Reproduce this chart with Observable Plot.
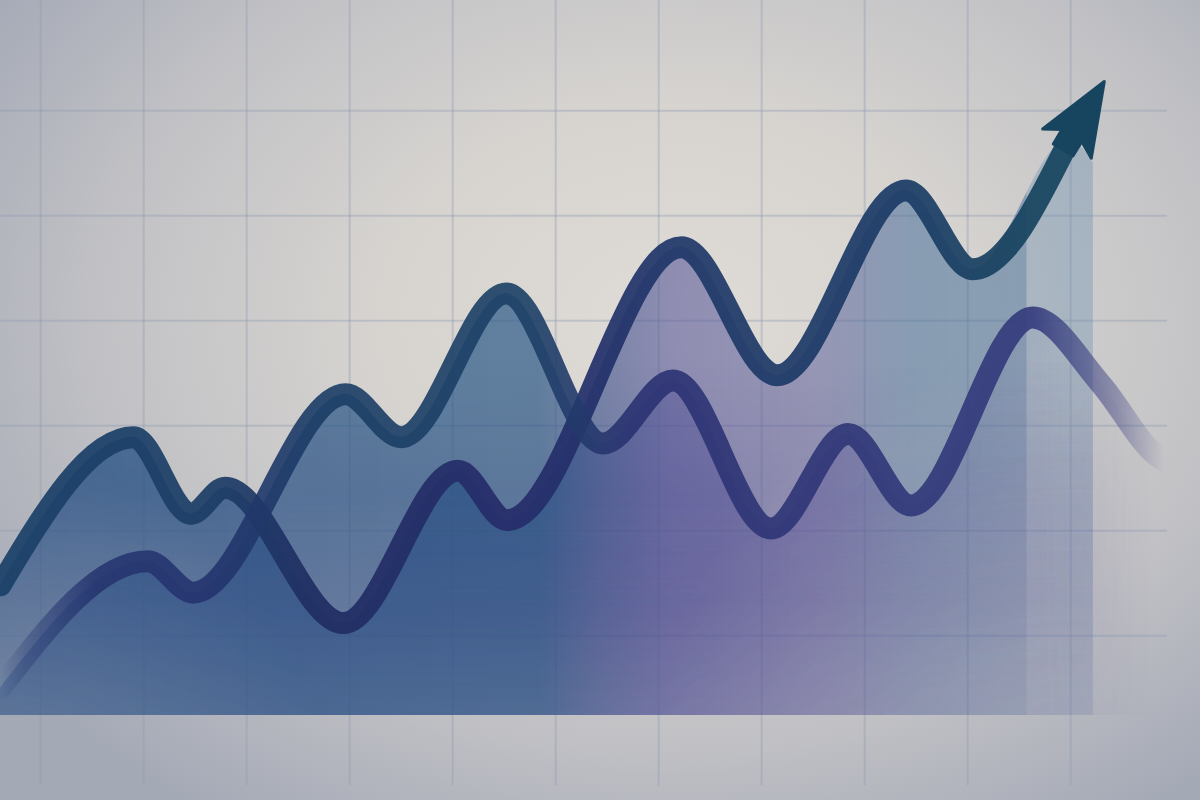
<!DOCTYPE html>
<html>
<head>
<meta charset="utf-8">
<script src="https://cdn.jsdelivr.net/npm/d3@7"></script>
<script src="https://cdn.jsdelivr.net/npm/@observablehq/plot@0.6"></script>
<style>
  html, body { margin: 0; padding: 0; background: #c9c8c9; }
  #chart svg {
    display: block;
    background: radial-gradient(ellipse 68% 75% at 56% 40%, #dfdbd6 0%, #d7d4d0 35%, #c1c1c5 70%, #a4a9b6 100%);
  }
</style>
</head>
<body>
<div id="chart"></div>
<script>
// Series 1 (line ending in the arrow)
const t1 = [-0.39, 0.90, 1.46, 1.79, 2.94, 4.05, 4.53, 6.22, 7.15, 8.40, 9.05, 9.99];
const v1 = [14.8, 28.9, 21.6, 24.1, 11.2, 25.7, 21.0, 47.0, 34.8, 52.4, 44.9, 57.3];
// Series 2 (second line)
const t2 = [-0.39, 1.04, 1.48, 2.96, 3.50, 4.52, 5.46, 6.14, 7.09, 7.84, 8.45, 9.63, 10.29, 10.84, 11.05];
const v2 = [5.0, 17.1, 14.1, 33.0, 28.9, 42.6, 28.3, 34.3, 20.2, 29.2, 22.4, 40.3, 34.0, 27.1, 26.0];
// Tail of the filled area beneath the arrow head
const tailT = [10.22];
const tailV = [55.0];
// Grid ticks
const gridT = [0, 1, 2, 3, 4, 5, 6, 7, 8, 9, 10];
const gridV = [10, 20, 30, 40, 50, 60];
const floorV = 2.4;

const s1 = t1.map((t, i) => ({t, v: v1[i]}));
const s2 = t2.map((t, i) => ({t, v: v2[i]}));
const area1 = s1.concat(tailT.map((t, i) => ({t, v: tailV[i]})));

const arrowHead = {
  draw(context, size) {
    const s = Math.sqrt(size / Math.PI) / 20;
    context.moveTo(0, -64 * s);
    context.lineTo(27 * s, 5 * s);
    context.lineTo(11 * s, -4 * s);
    context.lineTo(11 * s, 12 * s);
    context.lineTo(-11 * s, 12 * s);
    context.lineTo(-11 * s, -4 * s);
    context.lineTo(-27 * s, 5 * s);
    context.closePath();
  }
};

const areaOpts = {x: "t", y1: floorV, y2: "v", curve: "monotone-x"};
const lineOpts = {x: "t", y: "v", curve: "monotone-x", strokeWidth: 22, strokeLinecap: "round", strokeLinejoin: "round"};

const plot = Plot.plot({
  width: 1200,
  height: 800,
  margin: 0,
  x: {domain: [-0.39, 11.26], axis: null},
  y: {domain: [-5.7, 70.5], axis: null},
  marks: [
    Plot.ruleX(gridT, {x: d => d, y1: 70.5, y2: -4.3, stroke: "#8f9cb1", strokeOpacity: 0.38, strokeWidth: 2}),
    Plot.ruleY(gridV, {y: d => d, x1: -0.39, x2: 10.94, stroke: "#8f9cb1", strokeOpacity: 0.38, strokeWidth: 2}),
    Plot.areaY(area1, {...areaOpts, fill: "url(#fill1)"}),
    Plot.areaY(area1, {...areaOpts, fill: "url(#tint)"}),
    Plot.areaY(s2, {...areaOpts, fill: "url(#fill2)"}),
    Plot.areaY(s2, {...areaOpts, fill: "url(#tint)"}),
    Plot.line(s1, {...lineOpts, stroke: "url(#stroke1)", strokeOpacity: 0.92}),
    Plot.line(s2, {...lineOpts, stroke: "url(#stroke2)", strokeOpacity: 0.9}),
    Plot.dot(s1.slice(-1), {x: "t", y: "v", symbol: arrowHead, r: 21, rotate: 31, fill: "#17455f", stroke: "#17455f", strokeWidth: 3, strokeLinejoin: "round"})
  ]
});

const svg = d3.select(plot);
const defs = svg.insert("defs", ":first-child");
function lin(id, stops, vertical) {
  const g = defs.append("linearGradient").attr("id", id).attr("gradientUnits", "userSpaceOnUse")
    .attr("x1", 0).attr("y1", 0).attr("x2", vertical ? 0 : 1200).attr("y2", vertical ? 800 : 0);
  for (const [o, c, a] of stops) g.append("stop").attr("offset", o).attr("stop-color", c).attr("stop-opacity", a);
}
function rad(id, cx, cy, r, stops) {
  const g = defs.append("radialGradient").attr("id", id).attr("gradientUnits", "userSpaceOnUse")
    .attr("cx", cx).attr("cy", cy).attr("r", r);
  for (const [o, c, a] of stops) g.append("stop").attr("offset", o).attr("stop-color", c).attr("stop-opacity", a);
}
lin("fill1", [
  [0, "#2d5a88", 0.82], [0.45, "#2d5a88", 0.74], [0.5, "#43588f", 0.66], [0.56, "#5a5a9a", 0.6],
  [0.68, "#5e5f9c", 0.54], [0.76, "#48709a", 0.56], [0.855, "#48709a", 0.52], [0.856, "#6a8fb0", 0.38], [0.92, "#6a8fb0", 0.38]
]);
lin("fill2", [
  [0, "#2d5a88", 0.74], [0.45, "#2d5a88", 0.7], [0.5, "#43588f", 0.58], [0.56, "#55579a", 0.48],
  [0.7, "#635d9e", 0.38], [0.82, "#6f7aa8", 0.25], [0.9, "#8a90b0", 0.1], [0.95, "#9090b0", 0]
]);
lin("tint", [
  [0, "#3a3282", 0], [0.45, "#3a3282", 0], [0.75, "#3a3282", 0.18], [0.9, "#3a3282", 0.14]
], true);
lin("stroke1", [
  [0, "#1a4068", 1], [0.18, "#1c3d66", 1], [0.26, "#1f2d62", 1], [0.42, "#262c6a", 1], [0.5, "#22306a", 1],
  [0.57, "#1f3868", 1], [0.75, "#1b3b66", 1], [0.85, "#17435f", 1], [0.92, "#14455e", 1]
]);
lin("stroke2", [
  [0, "#24336e", 0], [0.02, "#24336e", 0.35], [0.08, "#24336e", 0.95], [0.17, "#24336e", 1],
  [0.27, "#1a3d65", 1], [0.44, "#1c4066", 1], [0.53, "#2b3272", 1], [0.86, "#333a7c", 1],
  [0.93, "#343a7e", 0.45], [0.97, "#343a7e", 0]
]);
lin("fadeGrad", [[0, "#fff", 1], [0.62, "#fff", 1], [0.894, "#a8a8a8", 1]], true);
rad("cornerR", 1080, 760, 420, [[0, "#000", 0.55], [0.6, "#000", 0.25], [1, "#000", 0]]);
rad("cornerL", 0, 780, 320, [[0, "#000", 0.45], [1, "#000", 0]]);
lin("hfadeGrad", [[0, "#fff", 1], [0.87, "#fff", 1], [0.92, "#fff", 0.6], [0.96, "#fff", 0]]);

function makeMask(id, fills) {
  const m = defs.append("mask").attr("id", id).attr("maskUnits", "userSpaceOnUse")
    .attr("x", 0).attr("y", 0).attr("width", 1200).attr("height", 800);
  for (const f of fills) m.append("rect").attr("x", 0).attr("y", 0).attr("width", 1200).attr("height", 800).attr("fill", f);
}
makeMask("fadeA", ["url(#fadeGrad)", "url(#cornerR)", "url(#cornerL)"]);
makeMask("hfade", ["url(#hfadeGrad)"]);

const areaGroups = svg.selectAll('g[aria-label="area"]').nodes();
areaGroups.forEach((node, i) => {
  d3.select(node).attr("mask", "url(#fadeA)");
  if (i >= 2) {
    const wrap = document.createElementNS("http://www.w3.org/2000/svg", "g");
    wrap.setAttribute("mask", "url(#hfade)");
    node.parentNode.insertBefore(wrap, node);
    wrap.appendChild(node);
  }
});

document.getElementById("chart").append(plot);
</script>
</body>
</html>
